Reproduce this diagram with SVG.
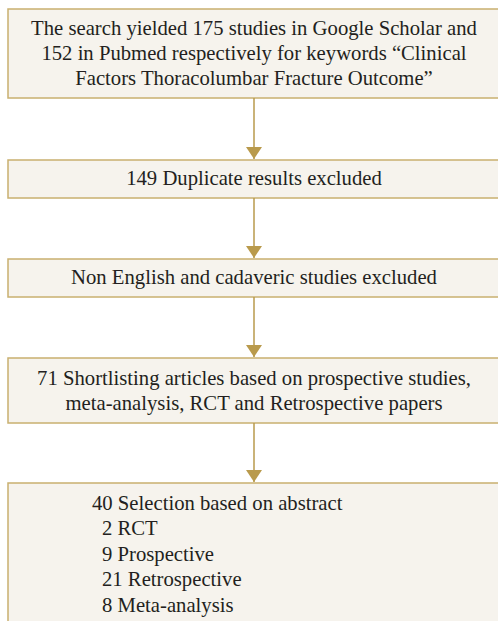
<svg xmlns="http://www.w3.org/2000/svg" width="498" height="621" viewBox="0 0 498 621">
<defs>
<style>
.box{fill:#f6f3ed;stroke:#c9b06f;stroke-width:1.5}
.t{font-family:"Liberation Serif","DejaVu Serif",serif;font-size:20.7px;fill:#231f20}
.c{text-anchor:middle}
.conn{stroke:#b99a4c;stroke-width:1.5;fill:none}
</style>
<marker id="ah" viewBox="0 0 12 16" refX="12" refY="8" markerWidth="12" markerHeight="16" markerUnits="userSpaceOnUse" orient="auto">
<path d="M0,0 L12,8 L0,16 Z" fill="#b99a4c"/>
</marker>
</defs>
<rect width="498" height="621" fill="#ffffff"/>
<g id="n1">
<rect class="box" x="8" y="9" width="492" height="89"/>
<text class="t c" x="254" y="35">The search yielded 175 studies in Google Scholar and</text>
<text class="t c" x="254" y="60">152 in Pubmed respectively for keywords “Clinical</text>
<text class="t c" x="254" y="85">Factors Thoracolumbar Fracture Outcome”</text>
</g>
<g id="n2">
<rect class="box" x="8" y="160" width="492" height="38"/>
<text class="t c" x="254" y="185">149 Duplicate results excluded</text>
</g>
<g id="n3">
<rect class="box" x="8" y="259" width="492" height="38"/>
<text class="t c" x="254" y="284">Non English and cadaveric studies excluded</text>
</g>
<g id="n4">
<rect class="box" x="8" y="358" width="492" height="65"/>
<text class="t c" x="254" y="385">71 Shortlisting articles based on prospective studies,</text>
<text class="t c" x="254" y="410">meta-analysis, RCT and Retrospective papers</text>
</g>
<g id="n5">
<rect class="box" x="8" y="483" width="492" height="150"/>
<text class="t" x="92" y="510">40 Selection based on abstract</text>
<text class="t" x="102" y="535">2 RCT</text>
<text class="t" x="102" y="561">9 Prospective</text>
<text class="t" x="102" y="586">21 Retrospective</text>
<text class="t" x="102" y="612">8 Meta-analysis</text>
</g>
<g id="connectors">
<line class="conn" x1="254" y1="98" x2="254" y2="159" marker-end="url(#ah)"/>
<line class="conn" x1="254" y1="198" x2="254" y2="258" marker-end="url(#ah)"/>
<line class="conn" x1="254" y1="297" x2="254" y2="357" marker-end="url(#ah)"/>
<line class="conn" x1="254" y1="423" x2="254" y2="482" marker-end="url(#ah)"/>
</g>
</svg>
